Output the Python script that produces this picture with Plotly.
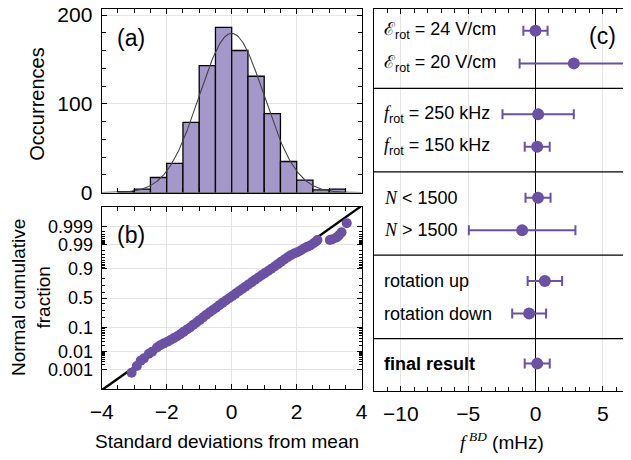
import numpy as np
import plotly.graph_objects as go
from statistics import NormalDist

# The page places the figure 8 px from the top-left corner, so the figure is
# sized to the visible window and every position below is given in window pixels.
OFF = 8
FW, FH = 631 - OFF, 460 - OFF
FONT = "Liberation Sans"
SERIF = "Liberation Serif"
PURPLE = "#6a51a3"
BARFILL = "#a497c9"
GRID = "#e3e3e3"

# ---------------- (a) histogram data ----------------
bin_left = [-3.5, -3.0, -2.5, -2.0, -1.5, -1.0, -0.5, 0.0, 0.5, 1.0, 1.5, 2.0, 2.5, 3.0]
counts = [1, 4, 17, 33, 79, 143, 186, 160, 131, 89, 35, 14, 3, 4]
bin_width = 0.5
fit_mean, fit_sd = 0.0, 1.0

# ---------------- (b) normal probability plot ----------------
qq_x = [-3.08, -2.92, -2.80, -2.70, -2.55, -2.45, -2.30, -2.20, -2.10, -1.98, -1.88, -1.78,
        -1.68, -1.58, -1.48, -1.38, -1.28, -1.18, -1.08, -0.98, -0.88, -0.78, -0.68, -0.58,
        -0.48, -0.38, -0.28, -0.18, -0.08, 0.02, 0.12, 0.22, 0.32, 0.42, 0.52, 0.62, 0.72,
        0.82, 0.92, 1.02, 1.12, 1.22, 1.32, 1.42, 1.52, 1.62, 1.72, 1.82, 1.92, 2.02, 2.12,
        2.22, 2.32, 2.42, 2.52, 2.60, 2.64, 3.02, 3.10, 3.23, 3.30, 3.38, 3.54]
qq_y = [-3.24, -2.95, -2.72, -2.62, -2.42, -2.33, -2.15, -2.05, -1.98, -1.90, -1.82, -1.74,
        -1.66, -1.57, -1.47, -1.37, -1.28, -1.16, -1.06, -0.95, -0.84, -0.73, -0.62, -0.52,
        -0.42, -0.31, -0.21, -0.11, -0.01, 0.09, 0.19, 0.29, 0.39, 0.49, 0.59, 0.69, 0.79,
        0.89, 0.99, 1.08, 1.17, 1.27, 1.37, 1.47, 1.57, 1.67, 1.77, 1.86, 1.93, 1.99, 2.06,
        2.15, 2.22, 2.28, 2.38, 2.46, 2.52, 2.52, 2.55, 2.63, 2.72, 2.85, 3.25]
prob_ticks = [0.001, 0.01, 0.1, 0.5, 0.9, 0.99, 0.999]
prob_labels = ["0.001", "0.01", "0.1", "0.5", "0.9", "0.99", "0.999"]
prob_minor = [0.002, 0.003, 0.004, 0.005, 0.006, 0.007, 0.008, 0.009,
              0.02, 0.03, 0.04, 0.05, 0.06, 0.07, 0.08, 0.09,
              0.2, 0.3, 0.4, 0.6, 0.7, 0.8,
              0.91, 0.92, 0.93, 0.94, 0.95, 0.96, 0.97, 0.98,
              0.991, 0.992, 0.993, 0.994, 0.995, 0.996, 0.997, 0.998]

# ---------------- (c) systematic checks ----------------
c_labels = [
    "ℰ<sub>rot</sub> = 24 V/cm",
    "ℰ<sub>rot</sub> = 20 V/cm",
    f"<span style='font-family:{SERIF}'><i>f</i></span><sub>rot</sub> = 250 kHz",
    f"<span style='font-family:{SERIF}'><i>f</i></span><sub>rot</sub> = 150 kHz",
    f"<span style='font-family:{SERIF}'><i>N</i></span> &lt; 1500",
    f"<span style='font-family:{SERIF}'><i>N</i></span> &gt; 1500",
    "rotation up",
    "rotation down",
    "<b>final result</b>",
]
c_values = [0.0, 2.85, 0.2, 0.13, 0.19, -0.99, 0.7, -0.47, 0.13]
c_errors = [0.9, 4.03, 2.65, 0.93, 0.93, 3.96, 1.28, 1.26, 0.93]

# row positions (layout): two rows per group, final result alone
c_rows = []
for g in range(4):
    c_rows += [g + 0.31, g + 0.70]
c_rows.append(4.30)

N_total = sum(counts)
centers = [b + bin_width / 2 for b in bin_left]
xf = np.linspace(-4, 4, 300)
nd = NormalDist(fit_mean, fit_sd)
yf = [N_total * bin_width * nd.pdf(v) for v in xf]

probit = NormalDist()
ptick = [probit.inv_cdf(p) for p in prob_ticks]
pminor = [probit.inv_cdf(p) for p in prob_minor]

fig = go.Figure()
fig.add_trace(go.Bar(x=centers, y=counts, width=bin_width,
                     marker=dict(color=BARFILL, line=dict(color="black", width=1.3)),
                     xaxis="x", yaxis="y", showlegend=False))
fig.add_trace(go.Scatter(x=xf, y=yf, mode="lines", line=dict(color="#444444", width=1.1),
                         xaxis="x", yaxis="y", showlegend=False))

fig.add_trace(go.Scatter(x=[-4, 4], y=[-4, 4], mode="lines", line=dict(color="black", width=2.4),
                         xaxis="x2", yaxis="y2", showlegend=False))
fig.add_trace(go.Scatter(x=qq_x, y=qq_y, mode="markers", marker=dict(color=PURPLE, size=10),
                         xaxis="x2", yaxis="y2", showlegend=False))

fig.add_trace(go.Scatter(x=c_values, y=c_rows, mode="markers",
                         marker=dict(color=PURPLE, size=12),
                         error_x=dict(type="data", array=c_errors, color=PURPLE, thickness=2, width=5),
                         xaxis="x3", yaxis="y3", showlegend=False))


def px_x(p):
    return (p - OFF) / FW


def px_y(p):
    return 1 - (p - OFF) / FH


TOP = 8.7  # top frame position (window pixels)

tickfont = dict(family=FONT, size=21, color="black")
common = dict(showline=True, linecolor="black", linewidth=1.3, mirror="allticks", ticks="inside",
              tickcolor="black", ticklen=5, tickwidth=1, showgrid=True, gridcolor=GRID, gridwidth=1,
              zeroline=False, tickfont=tickfont, automargin=False, ticklabeloverflow="allow")

xa_dom = [px_x(101.7), px_x(361.7)]
fig.update_layout(
    width=FW, height=FH, margin=dict(l=0, r=0, t=0, b=0, autoexpand=False),
    paper_bgcolor="white", plot_bgcolor="white",
    font=dict(family=FONT, color="black"),
    xaxis=dict(domain=xa_dom, anchor="y", range=[-4, 4], tickmode="array", tickvals=[-4, -2, 0, 2, 4],
               showticklabels=False,
               minor=dict(tickmode="linear", tick0=0, dtick=0.5, ticks="inside", ticklen=4, tickcolor="black"),
               **common),
    yaxis=dict(domain=[px_y(192.6), px_y(TOP)], anchor="x", range=[0, (192.6 - TOP) / 0.888],
               tickmode="array", tickvals=[0, 100, 200], ticktext=["0", "100", "200"], ticklabelstandoff=4,
               minor=dict(tickmode="linear", tick0=0, dtick=20, ticks="inside", ticklen=4, tickcolor="black"),
               **common),
    xaxis2=dict(domain=xa_dom, anchor="y2", range=[-4, 4], tickmode="array", tickvals=[-4, -2, 0, 2, 4],
                ticktext=["−4", "−2", "0", "2", "4"], ticklabelstandoff=4,
                minor=dict(tickmode="linear", tick0=0, dtick=0.5, ticks="inside", ticklen=4, tickcolor="black"),
                **common),
    yaxis2=dict(domain=[px_y(389), px_y(207)], anchor="x2", range=[-3.95, 3.95], tickmode="array",
                tickvals=ptick, ticktext=prob_labels, ticklabelstandoff=4,
                minor=dict(tickmode="array", tickvals=pminor, ticks="inside", ticklen=3, tickcolor="black"),
                **{**common, "tickfont": dict(family=FONT, size=18, color="black")}),
    xaxis3=dict(domain=[px_x(374), 1.0], anchor="y3", range=[-12, 7.1], tickmode="array",
                tickvals=[-10, -5, 0, 5], ticktext=["−10", "−5", "0", "5"], ticklabelstandoff=4,
                minor=dict(tickmode="linear", tick0=0, dtick=1, ticks="inside", ticklen=4, tickcolor="black"),
                **{**common, "zeroline": True, "zerolinecolor": "black", "zerolinewidth": 1.3}),
    yaxis3=dict(domain=[px_y(391), px_y(TOP)], anchor="x3", range=[(391 - 5) / 83.4, (TOP - 5) / 83.4],
                showticklabels=False, ticks="", showgrid=False, zeroline=False, showline=True,
                linecolor="black", linewidth=1.3, mirror=False, automargin=False),
)

shapes = []
for yv in [1, 2, 3, 4]:
    shapes.append(dict(type="line", xref="x3 domain", yref="y3", x0=0, x1=1, y0=yv, y1=yv,
                       line=dict(color="black", width=1.3)))
fig.update_layout(shapes=shapes)


def txt(text, x, y, size, **kw):
    d = dict(text=text, xref="paper", yref="paper", x=px_x(x), y=px_y(y), xanchor="center",
             yanchor="middle", showarrow=False, font=dict(family=FONT, size=size, color="black"))
    d.update(kw)
    return d


ann = []
for lab, yv in zip(c_labels, c_rows):
    ann.append(dict(text=lab, xref="paper", yref="y3", x=px_x(381.5), y=yv, xanchor="left", yanchor="middle",
                    showarrow=False, font=dict(family=FONT, size=18, color="black")))
ann += [
    txt("(a)", 131, 38, 23),
    txt("(b)", 131, 235, 23),
    txt("(c)", 602, 36, 23),
    txt("Occurrences", 36.7, 104, 20, textangle=-90),
    txt("Normal cumulative<br>fraction", 31, 298, 19, textangle=-90),
    txt("Standard deviations from mean", 226.7, 441, 19),
    txt(f"<span style='font-family:{SERIF}'><i>f</i>&#8201;<sup><i>BD</i></sup></span> (mHz)", 502, 441, 19),
]
fig.update_layout(annotations=ann)

fig.write_html("out.html")
